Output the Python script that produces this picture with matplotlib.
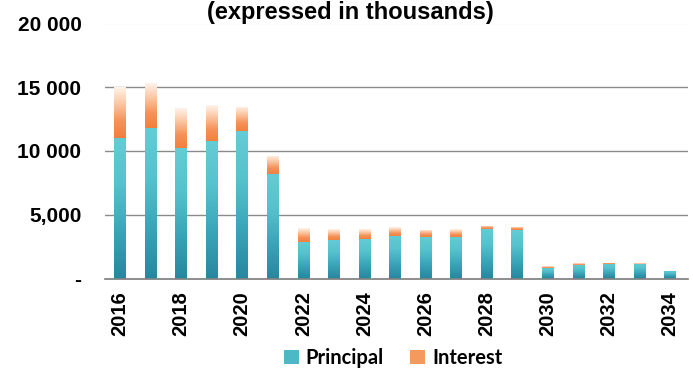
import numpy as np
import matplotlib
matplotlib.use("Agg")
import matplotlib.pyplot as plt
from matplotlib.colors import LinearSegmentedColormap
from matplotlib.ticker import FixedLocator

# Debt service schedule (thousands)
years = list(range(2016, 2035))
principal = [11000, 11790, 10220, 10790, 11570, 8180, 2900, 3010, 3090, 3350,
             3220, 3270, 3880, 3790, 860, 1050, 1100, 1130, 600]
interest = [4000, 3520, 3130, 2810, 1910, 1440, 1050, 860, 780, 700,
            580, 600, 260, 260, 140, 130, 110, 50, 0]
ytick_vals = [0, 5000, 10000, 15000, 20000]
ytick_labels = ["-", "5,000", "10 000", "15 000", "20 000"]

teal_base = "#4DB8C6"
orange_base = "#F59A5E"
teal_cmap = LinearSegmentedColormap.from_list(
    "teal", ["#28879F", "#3AA5B8", "#56C2CD", "#64CCD4"])
orange_cmap = LinearSegmentedColormap.from_list(
    "orange", ["#F2803D", "#F5925A", "#FBC6A2", "#FFF3EA"])

fig = plt.figure(figsize=(6.93, 3.72), dpi=100)
ax = fig.add_axes([105 / 693, 93.5 / 372, 583 / 693, 255 / 372])

x = np.arange(len(years))
width = 0.38
bars_p = ax.bar(x, principal, width, color=teal_base, label="Principal",
                linewidth=0, zorder=2)
bars_i = ax.bar(x, interest, width, bottom=principal, color=orange_base,
                label="Interest", linewidth=0, zorder=2)

grad = np.linspace(0, 1, 256).reshape(-1, 1)


def shade(bars, cmap):
    for patch in bars:
        h = patch.get_height()
        if h <= 0:
            continue
        x0 = patch.get_x()
        y0 = patch.get_y()
        im = ax.imshow(grad, cmap=cmap, aspect="auto", origin="lower",
                       extent=[x0, x0 + patch.get_width(), y0, y0 + h],
                       zorder=3, interpolation="bilinear")
        im.set_clip_path(patch)


shade(bars_p, teal_cmap)
shade(bars_i, orange_cmap)

ax.set_xlim(-0.49, len(years) - 1 + 0.59)
ax.set_ylim(0, 20000)

ax.yaxis.set_major_locator(FixedLocator(ytick_vals))
ax.set_yticklabels(ytick_labels, fontfamily="Liberation Sans",
                   fontweight="bold", fontsize=15)
ax.set_xticks(x[::2])
ax.set_xticklabels([str(y) for y in years[::2]], rotation=90,
                   fontfamily="Liberation Sans", fontweight="bold",
                   fontsize=14.5)
ax.tick_params(axis="y", length=0, pad=17)
ax.tick_params(axis="x", length=0, pad=9)

for v in ytick_vals[1:-1]:
    ax.axhline(v, color="#8a8a8a", linewidth=1.0, zorder=1)
ax.axhline(20000, color="#e6e6e6", linewidth=1.0, zorder=1)

for side in ["top", "right", "left"]:
    ax.spines[side].set_visible(False)
ax.spines["bottom"].set_color("#7a7a7a")
ax.spines["bottom"].set_linewidth(1.2)

fig.text(350 / 693, 1 - 18.5 / 372, "(expressed in thousands)",
         ha="center", va="baseline", fontfamily="Liberation Sans",
         fontweight="bold", fontsize=17)

leg = fig.legend(handles=[bars_p, bars_i], labels=["Principal", "Interest"],
                 loc="center", bbox_to_anchor=(393 / 693, 1 - 358 / 372),
                 ncol=2, frameon=False, handlelength=0.75, handleheight=0.75,
                 handletextpad=0.35, columnspacing=1.3,
                 prop={"family": "Lato", "weight": "bold", "size": 14.5})

fig.savefig("out.png", dpi=100)
